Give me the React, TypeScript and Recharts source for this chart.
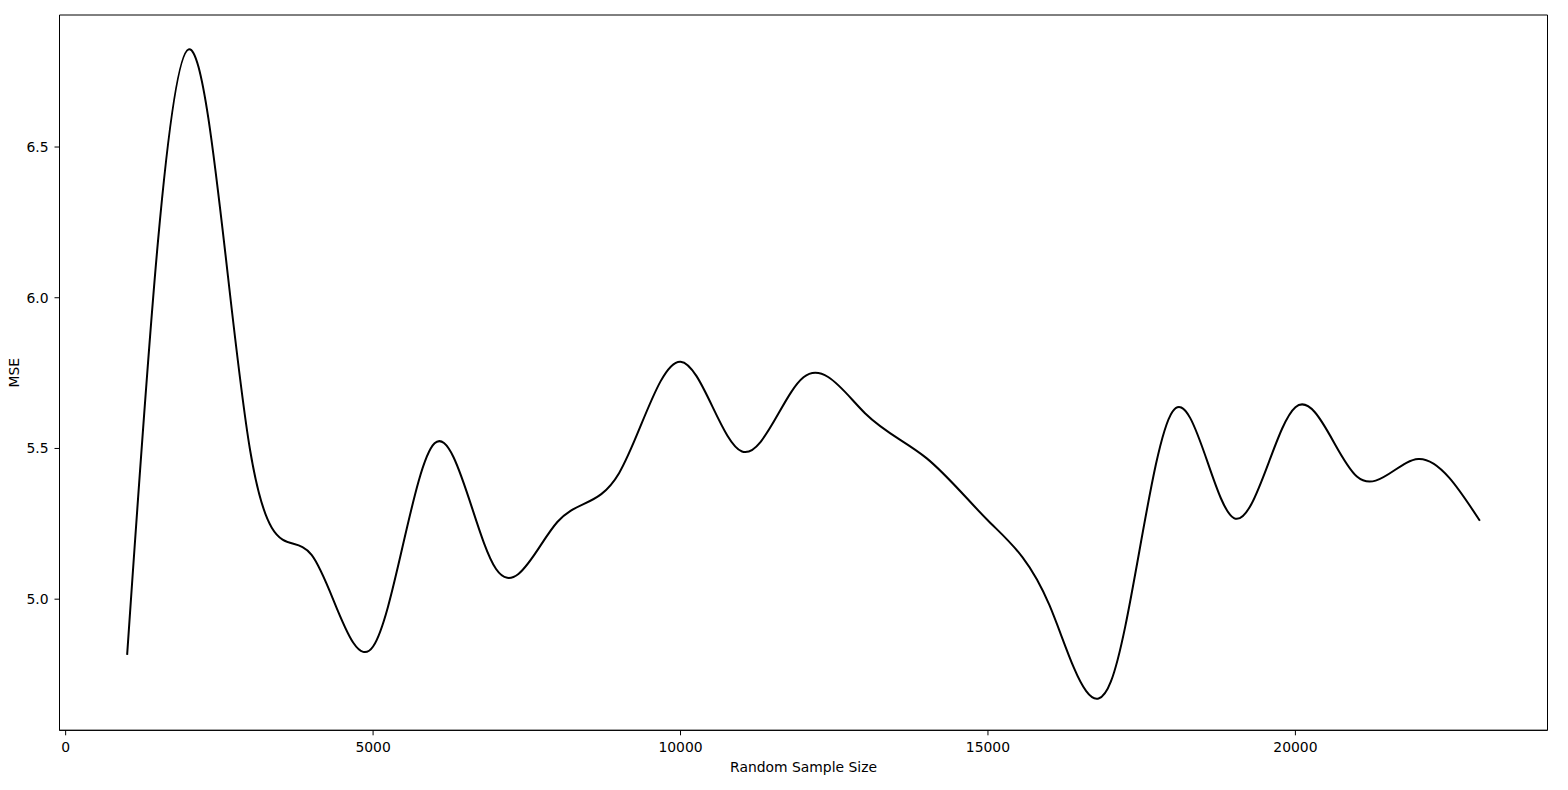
import React from 'react';
import { LineChart, Line, XAxis, YAxis, ReferenceArea } from 'recharts';

// sample sizes on the x axis
const sampleSizes = [
  1000, 2000, 3000, 4000, 5000, 6000, 7000, 8000, 9000, 10000, 11000, 12000,
  13000, 14000, 15000, 16000, 17000, 18000, 19000, 20000, 21000, 22000, 23000,
];

// MSE at each sample size
const mseValues = [
  4.815, 6.824, 5.494, 5.147, 4.843, 5.517, 5.1, 5.257, 5.418, 5.788, 5.49,
  5.736, 5.617, 5.468, 5.261, 4.98, 4.727, 5.622, 5.269, 5.637, 5.407, 5.465,
  5.26,
];

const xTicks = [0, 5000, 10000, 15000, 20000];
const yTicks = [5.0, 5.5, 6.0, 6.5];

const X_DOMAIN: [number, number] = [-100, 24100];
const Y_DOMAIN: [number, number] = [4.565, 6.938];

const data = sampleSizes.map((size, i) => ({ size, mse: mseValues[i] }));

const FONT = '"DejaVu Sans", sans-serif';
const tickStyle = { fontSize: 13.9, fill: '#000', fontFamily: FONT };

export default function App() {
  return (
    <div style={{ position: 'absolute', left: 0, top: 0, width: 1568, height: 790, background: '#fff' }}>
      <LineChart
        width={1568}
        height={790}
        data={data}
        margin={{ top: 15, right: 20.5, left: 0, bottom: 0 }}
      >
        <XAxis
          dataKey="size"
          type="number"
          domain={X_DOMAIN}
          allowDataOverflow
          ticks={xTicks}
          height={59.7}
          tickSize={5}
          tickMargin={7}
          axisLine={{ stroke: '#000', strokeWidth: 1 }}
          tickLine={{ stroke: '#000' }}
          tick={tickStyle}
          label={{
            value: 'Random Sample Size',
            position: 'insideBottom',
            offset: 18.3,
            style: { fontSize: 13.9, fill: '#000', fontFamily: FONT },
          }}
        />
        <YAxis
          type="number"
          domain={Y_DOMAIN}
          allowDataOverflow
          ticks={yTicks}
          width={59.5}
          tickSize={5}
          tickMargin={6}
          tickFormatter={(v: number) => v.toFixed(1)}
          axisLine={{ stroke: '#000', strokeWidth: 1 }}
          tickLine={{ stroke: '#000' }}
          tick={tickStyle}
          label={{
            value: 'MSE',
            angle: -90,
            position: 'insideLeft',
            offset: 14,
            style: { fontSize: 13.9, fill: '#000', fontFamily: FONT, textAnchor: 'middle' },
          }}
        />
        {/* frame round the plot area */}
        <ReferenceArea
          x1={X_DOMAIN[0]}
          x2={X_DOMAIN[1]}
          y1={Y_DOMAIN[0]}
          y2={Y_DOMAIN[1]}
          fill="none"
          fillOpacity={0}
          stroke="#000"
          strokeWidth={1}
          ifOverflow="visible"
        />
        <Line
          type="natural"
          dataKey="mse"
          stroke="#000"
          strokeWidth={2}
          dot={false}
          activeDot={false}
          isAnimationActive={false}
        />
      </LineChart>
    </div>
  );
}
